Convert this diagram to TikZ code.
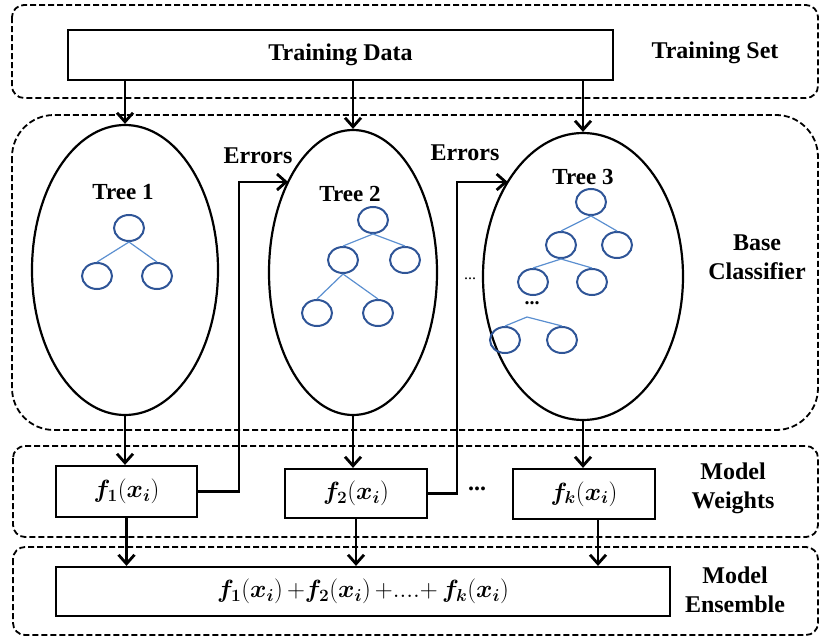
\documentclass[tikz,border=0pt]{standalone}
\usepackage{fontspec}
\setmainfont{Liberation Serif}
\usepackage{bm}
\usetikzlibrary{arrows.meta,calc,shapes.geometric}

\definecolor{nodeblue}{HTML}{2F5597}
\definecolor{edgeblue}{HTML}{5B8FD0}

\newcommand{\fx}[1]{\bm{f}_{\bm{#1}}(\bm{x}_{\bm{i}})}

\begin{document}
\begin{tikzpicture}[x=1pt,y=-1pt,
  panel/.style={draw, line width=1.8pt, dash pattern=on 6pt off 3pt, rounded corners=12pt},
  box/.style={draw, line width=2.2pt, inner sep=0pt, fill=white, font=\fontsize{26}{30}\selectfont},
  treeoval/.style={draw, ellipse, line width=2.2pt, inner sep=0pt},
  flow/.style={line width=2.8pt, -{Straight Barb[length=9pt,width=16pt]}},
  lbl/.style={font=\fontsize{24}{29}\selectfont\bfseries, align=center},
  tlbl/.style={font=\fontsize{23}{26}\selectfont\bfseries},
  tnode/.style={draw=nodeblue, ellipse, line width=2pt, minimum width=30pt, minimum height=26pt, inner sep=0pt},
  tedge/.style={draw=edgeblue, line width=1.2pt}]

\useasboundingbox (0,0) rectangle (820,637);

% dashed stage panels
\draw[panel] (12,5) rectangle (818,98);
\draw[panel, rounded corners=42pt] (12,115) rectangle (818,430);
\draw[panel] (13,446) rectangle (818,537);
\draw[panel] (13,547) rectangle (818,635);

% stage labels
\node[lbl] (lset) at (715,53) {Training Set};
\node[lbl] (lbase) at (757,257) {Base\\Classifier};
\node[lbl] (lweights) at (733,488) {Model\\Weights};
\node[lbl] (lens) at (735,590) {Model\\Ensemble};

% training data
\node[box, minimum width=545pt, minimum height=50pt, font=\fontsize{24}{28}\selectfont\bfseries] (td) at (340.5,55) {Training Data};

% base trees
\node[treeoval, minimum width=186pt, minimum height=290pt] (e1) at (125,270) {};
\node[treeoval, minimum width=168pt, minimum height=285pt] (e2) at (353,272.5) {};
\node[treeoval, minimum width=200pt, minimum height=287pt] (e3) at (583,276.5) {};

\node[tlbl] (t1lbl) at (123,192) {Tree 1};
\node[tlbl] (t2lbl) at (350,194) {Tree 2};
\node[tlbl] (t3lbl) at (583,177) {Tree 3};

% weighted models
\node[box, minimum width=141pt, minimum height=51pt] (f1) at (126.5,491.5) {$\fx{1}$};
\node[box, minimum width=142pt, minimum height=49pt] (f2) at (356,493.5) {$\fx{2}$};
\node[box, minimum width=142pt, minimum height=50pt] (fk) at (584,494) {$\fx{k}$};
\node[font=\fontsize{24}{28}\selectfont\bfseries] (wdots) at (477,489) {...};

% ensemble
\node[box, minimum width=614pt, minimum height=49pt] (ens) at (363,591.5)
  {$\fx{1}\,{+}\fx{2}\,{+}....{+}\,\fx{k}$};

% small dots between trees
\node[font=\fontsize{16}{18}\selectfont] (edots) at (470,279) {...};

% tree 1
\node[tnode] (a0) at (129,228) {};
\node[tnode] (a1) at (97,276) {};
\node[tnode] (a2) at (157,276) {};
\draw[tedge] (a0.south) -- (a1.north) (a0.south) -- (a2.north);

% tree 2
\node[tnode] (b0) at (373,220) {};
\node[tnode] (b1) at (343,260) {};
\node[tnode] (b2) at (405,260) {};
\node[tnode] (b3) at (317,313) {};
\node[tnode] (b4) at (378,313) {};
\draw[tedge] (b0.south) -- (b1.north) (b0.south) -- (b2.north);
\draw[tedge] (b1.south) -- (b3.north) (b1.south) -- (b4.north);

% tree 3
\node[tnode] (c0) at (591,202) {};
\node[tnode] (c1) at (561,245) {};
\node[tnode] (c2) at (617,245) {};
\node[tnode] (c3) at (533,282) {};
\node[tnode] (c4) at (592,282) {};
\node[font=\fontsize{20}{22}\selectfont\bfseries] (cdots) at (532,303) {...};
\coordinate (cfork) at (527,317);
\node[tnode] (c5) at (505,340) {};
\node[tnode] (c6) at (562,340) {};
\draw[tedge] (c0.south) -- (c1.north) (c0.south) -- (c2.north);
\draw[tedge] (c1.south) -- (c3.north) (c1.south) -- (c4.north);
\draw[tedge] (cfork) -- (c5.north) (cfork) -- (c6.north);

% data to trees
\draw[flow] (td.south -| e1.north) -- (e1.north);
\draw[flow] (td.south -| e2.north) -- (e2.north);
\draw[flow] (td.south -| e3.north) -- (e3.north);

% trees to weighted models
\draw[flow] (e1.south) -- (e1.south |- f1.north);
\draw[flow] (e2.south) -- (e2.south |- f2.north);
\draw[flow] (e3.south) -- (e3.south |- fk.north);

% weighted models to ensemble
\draw[flow] (f1.south) -- (f1.south |- ens.north);
\draw[flow] (f2.south) -- (f2.south |- ens.north);
\draw[flow] ([xshift=14pt]fk.south) -- ([xshift=14pt]fk.south |- ens.north);

% residual errors passed to the next tree
\coordinate (in2) at ($(e2.center)+({-84*sqrt(1-(90.5/142.5)^2)},-90.5)$);
\coordinate (in3) at ($(e3.center)+({-100*sqrt(1-(94.5/143.5)^2)},-94.5)$);
\draw[flow] (f1.east) -- (239,491.5) -- (239,182) -- (in2);
\draw[flow] (f2.east) -- (457,493.5) -- (457,182) -- (in3);
\node[lbl] (err1) at (258,156) {Errors};
\node[lbl] (err2) at (465,153) {Errors};

\end{tikzpicture}
\end{document}
